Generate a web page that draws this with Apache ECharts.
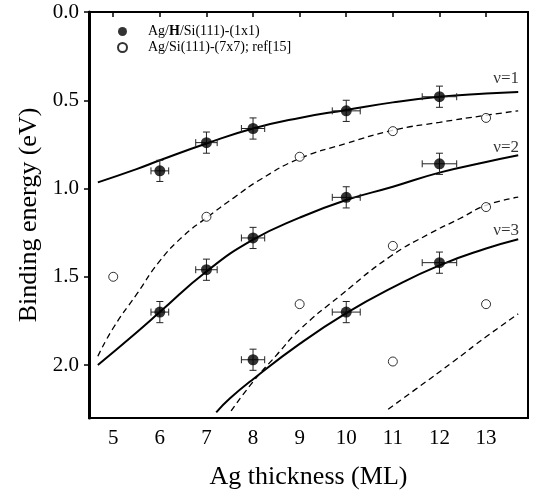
<!DOCTYPE html>
<html>
<head>
<meta charset="utf-8">
<script src="https://cdn.jsdelivr.net/npm/echarts@6/dist/echarts.min.js"></script>
<style>
html, body { margin: 0; padding: 0; background: #fff; }
#chart { width: 534px; height: 495px; }
</style>
</head>
<body>
<div id="chart"></div>
<script>
// tick labels
var xTicks = [5, 6, 7, 8, 9, 10, 11, 12, 13]
var yTicks = [0, 0.5, 1, 1.5, 2]

// Ag/H/Si(111)-(1x1), with error bars
var fullX = [6, 7, 8, 10, 12, 6, 7, 8, 10, 12, 8, 10, 12]
var fullY = [0.90, 0.74, 0.66, 0.56, 0.48, 1.70, 1.46, 1.28, 1.05, 0.86, 1.97, 1.70, 1.42]
var fullXErr = [0.19, 0.23, 0.25, 0.30, 0.37, 0.19, 0.23, 0.25, 0.30, 0.37, 0.25, 0.30, 0.37]
var fullYErr = [0.06, 0.06, 0.06, 0.06, 0.06, 0.06, 0.06, 0.06, 0.06, 0.06, 0.06, 0.06, 0.06]

// Ag/Si(111)-(7x7); ref[15]
var openX = [5, 7, 9, 11, 13, 11, 13, 9, 13, 11]
var openY = [1.50, 1.16, 0.82, 0.675, 0.60, 1.325, 1.105, 1.655, 1.655, 1.98]

// solid curves (1x1)
var nu1X = [4.67, 5.5, 6, 7, 8, 9, 10, 11, 12, 13, 13.69]
var nu1Y = [0.965, 0.89, 0.84, 0.745, 0.66, 0.60, 0.555, 0.512, 0.48, 0.462, 0.453]
var nu2X = [4.67, 5.5, 6, 7, 8, 9, 10, 11, 12, 13, 13.69]
var nu2Y = [2.0, 1.815, 1.70, 1.47, 1.29, 1.165, 1.065, 0.99, 0.91, 0.85, 0.812]
var nu3X = [7.21, 7.5, 8, 9, 10, 11, 12, 13, 13.69]
var nu3Y = [2.268, 2.19, 2.08, 1.88, 1.706, 1.56, 1.435, 1.34, 1.287]

// dashed curves (7x7)
var d1X = [4.67, 5, 5.5, 6, 6.5, 7, 7.6, 8.15, 9, 10, 11, 12, 13, 13.69]
var d1Y = [1.95, 1.79, 1.60, 1.41, 1.27, 1.166, 1.05, 0.95, 0.83, 0.745, 0.67, 0.625, 0.585, 0.56]
var d2X = [7.53, 8, 8.5, 9, 9.87, 10.95, 11.8, 12.44, 13, 13.69]
var d2Y = [2.26, 2.095, 1.945, 1.80, 1.607, 1.384, 1.254, 1.17, 1.095, 1.049]
var d3X = [10.9, 11.5, 12.3, 13, 13.69]
var d3Y = [2.25, 2.135, 1.98, 1.84, 1.71]

// curve labels
var nuNames = ['ν=1', 'ν=2', 'ν=3']
var nuX = [13.43, 13.43, 13.43]
var nuY = [0.378, 0.77, 1.239]

var legendNames = ['Ag/H/Si(111)-(1x1)', 'Ag/Si(111)-(7x7); ref[15]']

var serif = "'Liberation Serif', 'Times New Roman', Times, serif"

function pairs (xs, ys) {
  return xs.map(function (x, i) { return [x, ys[i]] })
}

function curve (name, xs, ys, dashed) {
  return {
    name: name,
    type: 'line',
    data: pairs(xs, ys),
    smooth: 0.5,
    showSymbol: false,
    silent: true,
    z: 2,
    lineStyle: dashed
      ? {color: '#000', width: 1.3, type: [6, 4]}
      : {color: '#000', width: 2}
  }
}

var chart = echarts.init(document.getElementById('chart'))

var option = {
  backgroundColor: '#fff',
  animation: false,
  grid: {
    left: 89,
    right: 6,
    top: 12,
    bottom: 71,
    show: true,
    borderColor: '#000',
    borderWidth: 2,
    backgroundColor: 'transparent'
  },
  legend: {
    left: 112,
    top: 19,
    orient: 'vertical',
    itemWidth: 9,
    itemHeight: 9,
    itemGap: 1,
    selectedMode: false,
    data: legendNames,
    formatter: function (name) {
      if (name === legendNames[0]) {
        return '{n|Ag/}{b|H}{n|/Si(111)-(1x1)}'
      }
      return '{n|' + name + '}'
    },
    textStyle: {
      padding: [0, 0, 0, 16],
      lineHeight: 15,
      rich: {
        n: {fontFamily: serif, fontSize: 14, color: '#000'},
        b: {fontFamily: serif, fontSize: 14, color: '#000', fontWeight: 'bold'}
      }
    }
  },
  xAxis: {
    type: 'value',
    min: 4.48,
    max: 13.9,
    name: 'Ag thickness (ML)',
    nameLocation: 'middle',
    nameGap: 46,
    nameTextStyle: {fontFamily: serif, fontSize: 26, color: '#000'},
    axisLine: {lineStyle: {color: '#000', width: 2}},
    axisTick: {show: true, inside: false, length: 5, lineStyle: {color: '#000', width: 1.5}, customValues: xTicks},
    axisLabel: {fontFamily: serif, fontSize: 21, color: '#000', margin: 10, customValues: xTicks},
    splitLine: {show: false}
  },
  yAxis: {
    type: 'value',
    inverse: true,
    min: 0,
    max: 2.3,
    name: 'Binding energy (eV)',
    nameLocation: 'middle',
    nameGap: 42,
    nameTextStyle: {fontFamily: serif, fontSize: 26, color: '#000'},
    axisLine: {lineStyle: {color: '#000', width: 3}},
    axisTick: {show: true, inside: false, length: 5, lineStyle: {color: '#000', width: 1.5}, customValues: yTicks},
    axisLabel: {
      fontFamily: serif,
      fontSize: 21,
      color: '#000',
      margin: 10,
      customValues: yTicks,
      formatter: function (v) { return v.toFixed(1) }
    },
    splitLine: {show: false}
  },
  series: [
    curve('nu1', nu1X, nu1Y, false),
    curve('nu2', nu2X, nu2Y, false),
    curve('nu3', nu3X, nu3Y, false),
    curve('d1', d1X, d1Y, true),
    curve('d2', d2X, d2Y, true),
    curve('d3', d3X, d3Y, true),
    {
      name: 'errors',
      type: 'custom',
      silent: true,
      z: 3,
      encode: {x: 0, y: 1},
      data: fullX.map(function (x, i) { return [x, fullY[i], fullXErr[i], fullYErr[i]] }),
      renderItem: function (params, api) {
        var x = api.value(0)
        var y = api.value(1)
        var dx = api.value(2)
        var dy = api.value(3)
        var l = api.coord([x - dx, y])
        var r = api.coord([x + dx, y])
        var t = api.coord([x, y - dy])
        var b = api.coord([x, y + dy])
        var cap = 3.5
        var st = {stroke: '#222', lineWidth: 1}
        return {
          type: 'group',
          children: [
            {type: 'line', shape: {x1: l[0], y1: l[1], x2: r[0], y2: r[1]}, style: st},
            {type: 'line', shape: {x1: t[0], y1: t[1], x2: b[0], y2: b[1]}, style: st},
            {type: 'line', shape: {x1: l[0], y1: l[1] - cap, x2: l[0], y2: l[1] + cap}, style: st},
            {type: 'line', shape: {x1: r[0], y1: r[1] - cap, x2: r[0], y2: r[1] + cap}, style: st},
            {type: 'line', shape: {x1: t[0] - cap, y1: t[1], x2: t[0] + cap, y2: t[1]}, style: st},
            {type: 'line', shape: {x1: b[0] - cap, y1: b[1], x2: b[0] + cap, y2: b[1]}, style: st}
          ]
        }
      }
    },
    {
      name: legendNames[0],
      type: 'scatter',
      z: 4,
      symbol: 'circle',
      symbolSize: 11,
      itemStyle: {color: '#000'},
      data: pairs(fullX, fullY)
    },
    {
      name: legendNames[1],
      type: 'scatter',
      z: 4,
      symbol: 'circle',
      symbolSize: 9,
      itemStyle: {color: '#fff', borderColor: '#000', borderWidth: 1},
      data: pairs(openX, openY)
    },
    {
      name: 'labels',
      type: 'scatter',
      silent: true,
      symbolSize: 0,
      z: 5,
      data: nuX.map(function (x, i) { return [x, nuY[i], nuNames[i]] }),
      label: {
        show: true,
        position: 'inside',
        formatter: function (p) { return p.value[2] },
        fontFamily: serif,
        fontSize: 17,
        color: '#000'
      }
    }
  ]
}

chart.setOption(option)
</script>
</body>
</html>
